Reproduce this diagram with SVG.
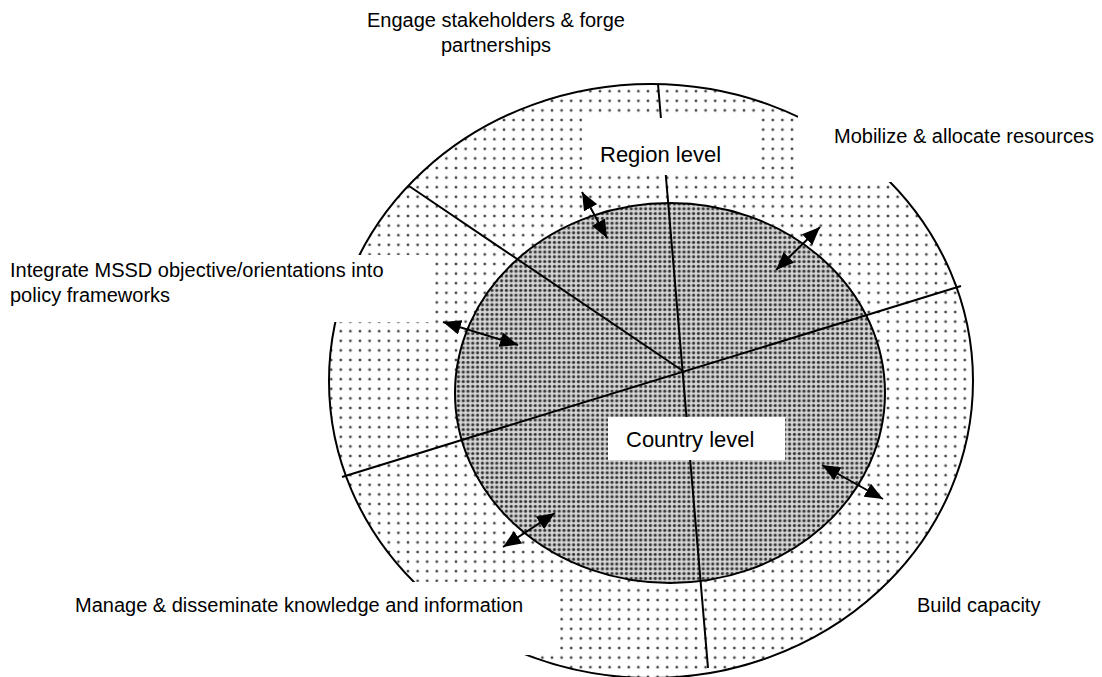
<svg xmlns="http://www.w3.org/2000/svg" width="1102" height="677" viewBox="0 0 1102 677">
<style>
.lbl{font-family:"Liberation Sans",Arial,sans-serif;font-size:20px;fill:#000}
.lvl{font-family:"Liberation Sans",Arial,sans-serif;font-size:22px;fill:#000}
.box{fill:#fff;stroke:none}
.edge{stroke:#000;stroke-width:2;fill:none}
.arr{stroke:#000;stroke-width:2;fill:none;marker-start:url(#head);marker-end:url(#head)}
</style>
<defs>
<pattern id="sparse" patternUnits="userSpaceOnUse" width="9.6" height="9.6">
<circle cx="4.8" cy="4.8" r="1.7" fill="#aaa"/>
<circle cx="4.8" cy="4.8" r="1" fill="#222"/>
</pattern>
<pattern id="dense" patternUnits="userSpaceOnUse" width="4.8" height="4.8">
<rect width="4.8" height="4.8" fill="#d6d6d6"/>
<circle cx="2.4" cy="2.4" r="1.8" fill="#777"/>
<circle cx="2.4" cy="2.4" r="1.1" fill="#222"/>
</pattern>
<marker id="head" viewBox="0 0 18 15" refX="18" refY="7.5" markerWidth="18" markerHeight="15" markerUnits="userSpaceOnUse" orient="auto-start-reverse">
<path d="M0,0 L18,7.5 L0,15 z" fill="#000"/>
</marker>
</defs>
<rect width="1102" height="677" fill="#fff"/>
<g id="outer-ring">
<ellipse cx="651" cy="381" rx="322" ry="297" fill="url(#sparse)" stroke="#000" stroke-width="2"/>
</g>
<g id="inner-circle">
<ellipse cx="670" cy="393" rx="215" ry="190" fill="url(#dense)" stroke="#000" stroke-width="2"/>
</g>
<g id="connectors">
<line class="edge" x1="658" y1="84" x2="708" y2="668"/>
<line class="edge" x1="342" y1="477" x2="961" y2="286"/>
<line class="edge" x1="409" y1="186" x2="683" y2="371"/>
<line class="arr" x1="582" y1="192" x2="607" y2="238"/>
<line class="arr" x1="776" y1="270" x2="820" y2="227"/>
<line class="arr" x1="443" y1="322" x2="518" y2="345"/>
<line class="arr" x1="822" y1="465" x2="883" y2="499"/>
<line class="arr" x1="555" y1="513" x2="503" y2="547"/>
</g>
<g id="engage">
<rect class="box" x="362" y="2" width="268" height="60"/>
<text class="lbl" x="496" y="27" text-anchor="middle">Engage stakeholders &amp; forge</text>
<text class="lbl" x="496" y="52" text-anchor="middle">partnerships</text>
</g>
<g id="mobilize">
<rect class="box" x="798" y="110" width="302" height="72"/>
<text class="lbl" x="834" y="143">Mobilize &amp; allocate resources</text>
</g>
<g id="integrate">
<rect class="box" x="5" y="255" width="430" height="67"/>
<text class="lbl" x="10" y="277">Integrate MSSD objective/orientations into</text>
<text class="lbl" x="10" y="302">policy frameworks</text>
</g>
<g id="manage">
<rect class="box" x="60" y="582" width="500" height="73"/>
<text class="lbl" x="75" y="612">Manage &amp; disseminate knowledge and information</text>
</g>
<g id="build">
<rect class="box" x="905" y="585" width="140" height="45"/>
<text class="lbl" x="917" y="612">Build capacity</text>
</g>
<g id="region-level">
<rect class="box" x="582" y="118" width="175" height="57"/>
<text class="lvl" x="600" y="162">Region level</text>
</g>
<g id="country-level">
<rect class="box" x="608" y="417" width="177" height="43"/>
<text class="lvl" x="626" y="447">Country level</text>
</g>
</svg>
